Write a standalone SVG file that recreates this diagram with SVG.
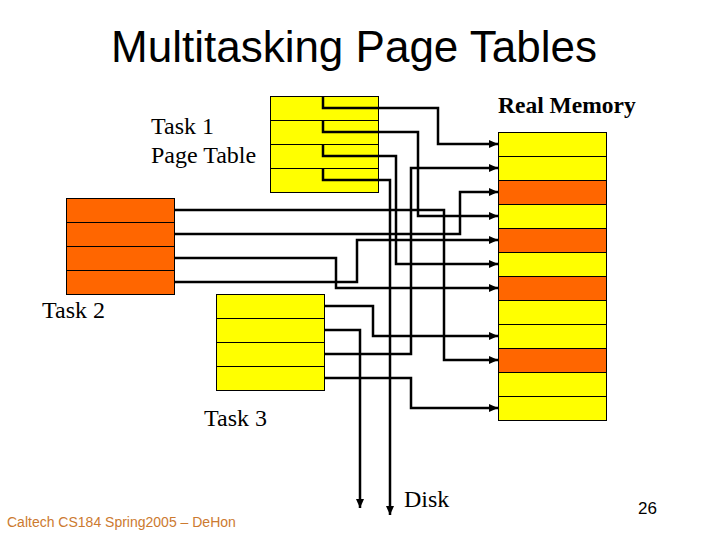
<svg xmlns="http://www.w3.org/2000/svg" width="720" height="540" viewBox="0 0 720 540">
<style>
.y{fill:#FFFF00;stroke:#000;stroke-width:1}
.o{fill:#FF6600;stroke:#000;stroke-width:1}
.c{fill:none;stroke:#000;stroke-width:2.5;stroke-linejoin:miter}
.a{marker-end:url(#ah)}
.serif{font-family:"Liberation Serif","Times New Roman",serif;font-size:24px;fill:#000}
.sans{font-family:"Liberation Sans",Arial,sans-serif}
</style>
<defs>
<marker id="ah" markerUnits="userSpaceOnUse" markerWidth="10" markerHeight="9" refX="9" refY="4.5" orient="auto">
<path d="M0,0.5 L9,4.5 L0,8.5 Z" fill="#000"/>
</marker>
</defs>
<rect width="720" height="540" fill="#fff"/>
<text x="354" y="62" text-anchor="middle" class="sans" font-size="44" fill="#000">Multitasking Page Tables</text>

<g id="task1">
<rect class="y" x="270.5" y="96.5" width="108" height="24"/>
<rect class="y" x="270.5" y="120.5" width="108" height="24"/>
<rect class="y" x="270.5" y="144.5" width="108" height="24"/>
<rect class="y" x="270.5" y="168.5" width="108" height="24"/>
<text class="serif" x="151" y="134">Task 1</text>
<text class="serif" x="151" y="163">Page Table</text>
</g>

<g id="task2">
<rect class="o" x="66.5" y="198.5" width="108" height="24"/>
<rect class="o" x="66.5" y="222.5" width="108" height="24"/>
<rect class="o" x="66.5" y="246.5" width="108" height="24"/>
<rect class="o" x="66.5" y="270.5" width="108" height="24"/>
<text class="serif" x="42" y="318">Task 2</text>
</g>

<g id="task3">
<rect class="y" x="216.5" y="294.5" width="108" height="24"/>
<rect class="y" x="216.5" y="318.5" width="108" height="24"/>
<rect class="y" x="216.5" y="342.5" width="108" height="24"/>
<rect class="y" x="216.5" y="366.5" width="108" height="24"/>
<text class="serif" x="204" y="426">Task 3</text>
</g>

<g id="memory">
<rect class="y" x="498.5" y="132.5" width="108" height="24"/>
<rect class="y" x="498.5" y="156.5" width="108" height="24"/>
<rect class="o" x="498.5" y="180.5" width="108" height="24"/>
<rect class="y" x="498.5" y="204.5" width="108" height="24"/>
<rect class="o" x="498.5" y="228.5" width="108" height="24"/>
<rect class="y" x="498.5" y="252.5" width="108" height="24"/>
<rect class="o" x="498.5" y="276.5" width="108" height="24"/>
<rect class="y" x="498.5" y="300.5" width="108" height="24"/>
<rect class="y" x="498.5" y="324.5" width="108" height="24"/>
<rect class="o" x="498.5" y="348.5" width="108" height="24"/>
<rect class="y" x="498.5" y="372.5" width="108" height="24"/>
<rect class="y" x="498.5" y="396.5" width="108" height="24"/>
<text x="498" y="113" font-family="'Liberation Serif','Times New Roman',serif" font-size="23.5" font-weight="bold" fill="#000">Real Memory</text>
</g>

<g id="disk">
<text class="serif" x="404" y="507">Disk</text>
</g>

<g id="connectors">
<path class="c a" d="M323,96 V108 H438 V144 H498"/>
<path class="c a" d="M323,120 V132 H418 V216 H498"/>
<path class="c a" d="M323,144 V156 H396 V264 H498"/>
<path class="c a" d="M323,168 V180 H390 V515"/>
<path class="c a" d="M175,210 H444 V360 H498"/>
<path class="c a" d="M175,234 H460 V192 H498"/>
<path class="c a" d="M175,258 H336 V288 H498"/>
<path class="c a" d="M175,282 H357 V240 H498"/>
<path class="c a" d="M325,306 H373 V336 H498"/>
<path class="c a" d="M325,330 H360 V508"/>
<path class="c a" d="M325,354 H411 V168 H498"/>
<path class="c a" d="M325,378 H411 V408 H498"/>
</g>

<text x="7" y="527" class="sans" font-size="14" fill="#CC7A30">Caltech CS184 Spring2005 – DeHon</text>
<text x="638" y="514" class="sans" font-size="17" fill="#000">26</text>
</svg>
